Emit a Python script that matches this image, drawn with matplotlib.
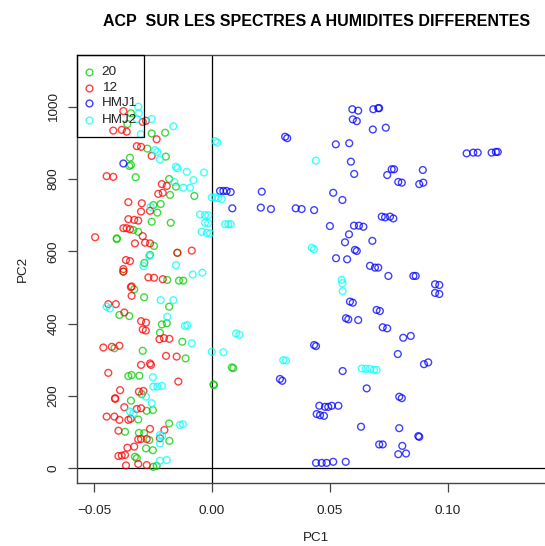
import matplotlib
matplotlib.use("Agg")
import matplotlib.pyplot as plt
from matplotlib.patches import Rectangle
from matplotlib.lines import Line2D

plt.rcParams['font.family'] = ['Liberation Sans', 'DejaVu Sans']

# PCA scores (PC1, PC2) for each moisture group
pc1_20 = [-0.0344, -0.0359, -0.0256, -0.0199, -0.0274, -0.0196, -0.0348, -0.0351, -0.0344,
          -0.0324, -0.0182, -0.0153, -0.0178, -0.0075, -0.0249, -0.0218, -0.0232, -0.0256,
          -0.0175, -0.0334, -0.0313, -0.0404, -0.0404, -0.0246, -0.0147, -0.0263, -0.0287,
          -0.0376, -0.0190, -0.0140, -0.0122, -0.0330, -0.0288, -0.0182, -0.0393, -0.0351,
          -0.0213, -0.0192, -0.0221, -0.0126, -0.0414, -0.0294, -0.0112, 0.0084, 0.0090,
          -0.0355, -0.0341, -0.0308, 0.0006, 0.0008, -0.0298, -0.0344, -0.0277, -0.0251,
          -0.0313, -0.0182, -0.0369, -0.0310, -0.0288, -0.0266, -0.0181, -0.0280, -0.0251,
          -0.0327, -0.0319, -0.0249, -0.0235]
pc2_20 = [982, 952, 926, 928, 884, 862, 859, 836, 839,
          805, 800, 779, 756, 753, 728, 731, 707, 682,
          679, 659, 654, 634, 636, 615, 596, 590, 568,
          544, 521, 519, 519, 495, 473, 447, 424, 421,
          398, 401, 375, 350, 332, 325, 304, 279, 277,
          255, 258, 256, 232, 230, 205, 187, 159, 161,
          135, 124, 101, 98, 97, 78, 76, 55, 50,
          32, 28, 4, 7]

pc1_12 = [-0.0376, -0.0419, -0.0383, -0.0362, -0.0294, -0.0280, -0.0235, -0.0319, -0.0301,
          -0.0256, -0.0447, -0.0419, -0.0213, -0.0192, -0.0228, -0.0209, -0.0355, -0.0298,
          -0.0301, -0.0263, -0.0355, -0.0330, -0.0313, -0.0376, -0.0362, -0.0348, -0.0496,
          -0.0294, -0.0327, -0.0284, -0.0263, -0.0086, -0.0147, -0.0365, -0.0348, -0.0376,
          -0.0376, -0.0270, -0.0246, -0.0209, -0.0344, -0.0341, -0.0341, -0.0408, -0.0440,
          -0.0372, -0.0301, -0.0280, -0.0294, -0.0281, -0.0223, -0.0204, -0.0181, -0.0461,
          -0.0425, -0.0393, -0.0195, -0.0150, -0.0301, -0.0263, -0.0259, -0.0440, -0.0143,
          -0.0390, -0.0310, -0.0291, -0.0411, -0.0411, -0.0372, -0.0319, -0.0301, -0.0447,
          -0.0414, -0.0393, -0.0355, -0.0345, -0.0397, -0.0263, -0.0202, -0.0301, -0.0313,
          -0.0277, -0.0221, -0.0359, -0.0330, -0.0397, -0.0383, -0.0369, -0.0365, -0.0313,
          -0.0277]
pc2_12 = [988, 934, 936, 931, 958, 961, 910, 891, 889,
          864, 808, 806, 786, 781, 759, 762, 736, 733,
          710, 712, 689, 687, 685, 664, 664, 661, 639,
          642, 622, 624, 622, 602, 596, 576, 573, 551,
          544, 528, 527, 523, 501, 503, 477, 454, 454,
          431, 407, 403, 384, 381, 357, 360, 358, 334,
          336, 339, 311, 309, 286, 290, 286, 264, 240,
          216, 212, 214, 192, 194, 169, 164, 166, 143,
          143, 134, 134, 137, 104, 109, 106, 81, 80,
          81, 83, 57, 60, 34, 35, 37, 8, 12,
          9]

pc1_hmj1 = [-0.0376, 0.0595, 0.0620, 0.0684, 0.0705, 0.0709, 0.0597, 0.0614, 0.0682,
            0.0737, 0.0310, 0.0319, 0.0525, 0.0582, 0.0589, 0.0603, 0.0034, 0.0048,
            0.0062, 0.0079, 0.0211, 0.0514, 0.0553, 0.0086, 0.0207, 0.0250, 0.0355,
            0.0380, 0.0433, 0.0500, 0.0602, 0.0623, 0.0642, 0.0581, 0.0564, 0.0680,
            0.0606, 0.0614, 0.0526, 0.0573, 0.0670, 0.0691, 0.0705, 0.1080, 0.1108,
            0.1127, 0.1186, 0.1204, 0.1212, 0.0762, 0.0772, 0.0743, 0.0894, 0.0790,
            0.0805, 0.0879, 0.0896, 0.0720, 0.0734, 0.0755, 0.0769, 0.0748, 0.0854,
            0.0864, 0.0585, 0.0597, 0.0698, 0.0712, 0.0568, 0.0578, 0.0620, 0.0433,
            0.0441, 0.0554, 0.0288, 0.0298, 0.0656, 0.0455, 0.0479, 0.0493, 0.0508,
            0.0536, 0.0444, 0.0458, 0.0475, 0.0632, 0.0709, 0.0724, 0.0441, 0.0465,
            0.0486, 0.0514, 0.0567, 0.0946, 0.0964, 0.0946, 0.0964, 0.0724, 0.0743,
            0.0811, 0.0843, 0.0788, 0.0899, 0.0917, 0.0794, 0.0805, 0.0794, 0.0875,
            0.0879, 0.0807, 0.0790, 0.0823]
pc2_hmj1 = [843, 993, 989, 993, 996, 996, 965, 960, 937,
            942, 917, 913, 896, 899, 848, 814, 767, 767,
            767, 764, 765, 762, 742, 719, 721, 717, 719,
            717, 714, 670, 671, 671, 668, 647, 625, 629,
            604, 601, 581, 578, 560, 555, 555, 871, 873,
            873, 873, 875, 875, 827, 827, 811, 825, 792,
            790, 786, 790, 696, 694, 696, 691, 532, 532,
            532, 461, 458, 438, 435, 415, 412, 410, 341,
            338, 269, 247, 242, 221, 173, 170, 170, 173,
            173, 150, 147, 145, 115, 66, 66, 15, 15,
            15, 18, 18, 509, 507, 485, 482, 390, 387,
            361, 366, 316, 288, 293, 198, 194, 111, 89,
            87, 62, 39, 41]

pc1_hmj2 = [-0.0313, -0.0310, -0.0319, -0.0256, -0.0164, -0.0302, 0.0013, 0.0022, -0.0242,
            -0.0232, -0.0221, -0.0153, -0.0147, -0.0107, -0.0034, -0.0079, -0.0160, -0.0122,
            -0.0093, -0.0260, -0.0001, 0.0013, 0.0027, 0.0041, -0.0051, -0.0030, -0.0016,
            -0.0030, -0.0016, 0.0055, 0.0069, 0.0079, -0.0044, -0.0022, -0.0008, -0.0267,
            -0.0291, -0.0153, -0.0041, -0.0082, -0.0218, -0.0164, -0.0447, -0.0433, -0.0190,
            -0.0115, -0.0105, -0.0086, -0.0001, 0.0048, -0.0251, -0.0249, -0.0232, -0.0213,
            -0.0280, -0.0256, -0.0348, -0.0334, -0.0136, -0.0124, -0.0221, -0.0211, -0.0221,
            -0.0221, -0.0192, 0.0440, 0.0423, 0.0433, 0.0550, 0.0553, 0.0554, 0.0102,
            0.0116, 0.0302, 0.0314, 0.0635, 0.0652, 0.0670, 0.0687, 0.0698]
pc2_hmj2 = [1000, 982, 966, 966, 946, 924, 905, 901, 880,
            875, 854, 834, 830, 820, 818, 797, 792, 776,
            776, 723, 749, 749, 747, 745, 702, 700, 700,
            679, 678, 675, 675, 675, 654, 651, 650, 587,
            559, 562, 541, 536, 465, 465, 447, 442, 419,
            394, 396, 346, 322, 321, 252, 226, 226, 228,
            198, 180, 157, 152, 120, 122, 92, 90, 69,
            21, 23, 851, 610, 606, 521, 512, 490, 373,
            369, 299, 298, 276, 275, 275, 272, 272]

group_labels = ["20", "12", "HMJ1", "HMJ2"]
group_colors = ["#00CD00", "#FF0000", "#0000FF", "#00FFFF"]
group_pc1 = [pc1_20, pc1_12, pc1_hmj1, pc1_hmj2]
group_pc2 = [pc2_20, pc2_12, pc2_hmj1, pc2_hmj2]

x_ticks = [-0.05, 0.0, 0.05, 0.10]
x_tick_labels = ["\u22120.05", "0.00", "0.05", "0.10"]
y_ticks = [0, 200, 400, 600, 800, 1000]
y_tick_labels = ["0", "200", "400", "600", "800", "1000"]

W, H = 545, 546
fig = plt.figure(figsize=(W / 100, H / 100), dpi=100)
ax = fig.add_axes([76.7 / W, 1 - 482.7 / H, 479.3 / W, 427.7 / H])

for xs, ys, col in zip(group_pc1, group_pc2, group_colors):
    ax.scatter(xs, ys, s=24, facecolors="none", edgecolors=col,
               linewidths=1.0, alpha=0.75, zorder=3)

ax.axhline(0, color="black", lw=0.9, zorder=2)
ax.axvline(0, color="black", lw=0.9, zorder=2)

ax.set_xlim(-0.0574, 0.1459)
ax.set_ylim(-39.8, 1143)

ax.set_xticks(x_ticks)
ax.set_xticklabels(x_tick_labels)
ax.set_yticks(y_ticks)
ax.set_yticklabels(y_tick_labels, rotation=90, va="center")

for s in ax.spines.values():
    s.set_color("#444444")
    s.set_linewidth(1.0)

ax.tick_params(axis="both", length=6.8, width=0.9, color="#444444",
               labelsize=9.7, labelcolor="#222222")
ax.tick_params(axis="x", pad=9)
ax.tick_params(axis="y", pad=5.5)

ax.set_xlabel("PC1", fontsize=9.7, labelpad=11, color="#222222")
ax.set_ylabel("PC2", fontsize=9.7, labelpad=13.5, color="#222222")
ax.set_title("ACP  SUR LES SPECTRES A HUMIDITES DIFFERENTES",
             fontsize=11.5, fontweight="bold", pad=20.9)

# legend box drawn in the upper-left corner of the plot region
ax.add_patch(Rectangle((0, 0.8076), 0.1404, 0.1924, transform=ax.transAxes,
                       fill=False, ec="black", lw=0.9, zorder=4, clip_on=False))
row_y = [0.961, 0.9235, 0.887, 0.848]
for lab, col, yy in zip(group_labels, group_colors, row_y):
    ax.add_line(Line2D([0.0257], [yy], transform=ax.transAxes, marker="o",
                       markersize=4.9, markerfacecolor="none",
                       markeredgecolor=col, markeredgewidth=1.0, alpha=0.75,
                       linestyle="none", zorder=5))
    ax.text(0.0522, yy, lab, transform=ax.transAxes, fontsize=9.7,
            va="center", ha="left", color="#222222", zorder=5)

fig.savefig("out.png", dpi=100)
